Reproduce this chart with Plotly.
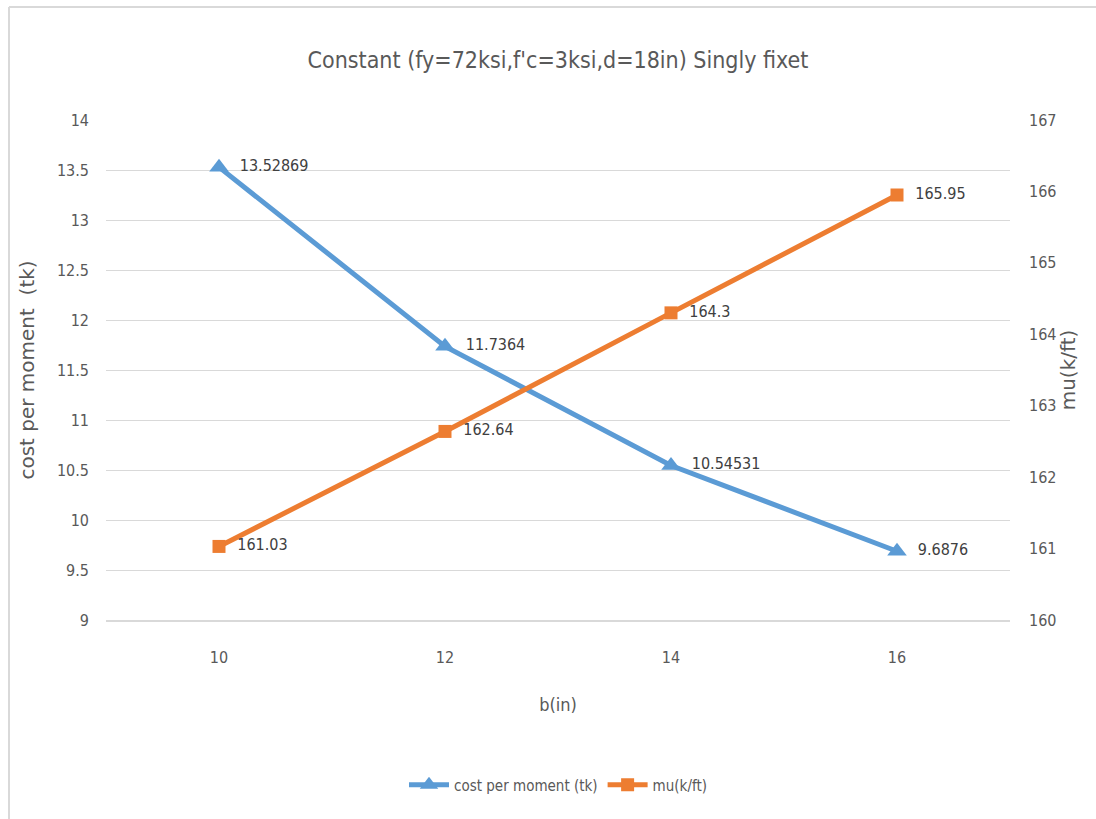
import plotly.graph_objects as go

# Beam width b (in) and the two series plotted against it
b_in = ["10", "12", "14", "16"]
cost_per_moment = [13.52869, 11.7364, 10.54531, 9.6876]
mu_kft = [161.03, 162.64, 164.3, 165.95]

cost_labels = ["13.52869", "11.7364", "10.54531", "9.6876"]
mu_labels = ["161.03", "162.64", "164.3", "165.95"]

left_ticks = [9, 9.5, 10, 10.5, 11, 11.5, 12, 12.5, 13, 13.5, 14]
right_ticks = [160, 161, 162, 163, 164, 165, 166, 167]

BLUE = "#5B9BD5"
ORANGE = "#ED7D31"
GREY_TEXT = "#595959"
NARROW = "DejaVu Sans Condensed, Liberation Sans, sans-serif"
WIDE = "DejaVu Sans, Open Sans, sans-serif"

fig = go.Figure()

fig.add_trace(go.Scatter(
    x=b_in, y=cost_per_moment, name="cost per moment (tk)",
    mode="lines+markers+text",
    line=dict(color=BLUE, width=5),
    marker=dict(symbol="triangle-up", size=17, color=BLUE),
    text=["  " + t for t in cost_labels], textposition="middle right",
    textfont=dict(family=NARROW, size=16, color="#404040"),
    yaxis="y", cliponaxis=False,
))

fig.add_trace(go.Scatter(
    x=b_in, y=mu_kft, name="mu(k/ft)",
    mode="lines+markers+text",
    line=dict(color=ORANGE, width=5),
    marker=dict(symbol="square", size=13, color=ORANGE),
    text=["  " + t for t in mu_labels], textposition="middle right",
    textfont=dict(family=NARROW, size=16, color="#404040"),
    yaxis="y2", cliponaxis=False,
))

fig.update_layout(
    width=1096, height=819,
    margin=dict(l=106, r=86, t=120, b=199),
    paper_bgcolor="white", plot_bgcolor="white",
    title=dict(
        text="Constant (fy=72ksi,f'c=3ksi,d=18in) Singly fixet",
        xref="paper", x=0.5, xanchor="center", y=0.927, yanchor="middle",
        font=dict(family=NARROW, size=23, color=GREY_TEXT),
    ),
    xaxis=dict(
        type="category", range=[-0.5, 3.5],
        showgrid=False, showline=True, linecolor="#d9d9d9", linewidth=2,
        ticks="", tickfont=dict(family=NARROW, size=16, color=GREY_TEXT),
        ticklabelstandoff=22,
        title=dict(text="b(in)", font=dict(family=NARROW, size=18, color=GREY_TEXT),
                   standoff=32),
        fixedrange=True,
    ),
    yaxis=dict(
        range=[9, 14], tickvals=left_ticks,
        ticktext=[f"{v:g}" for v in left_ticks],
        showgrid=True, gridcolor="#d9d9d9", gridwidth=1, zeroline=False,
        ticks="", tickfont=dict(family=NARROW, size=16, color=GREY_TEXT),
        ticklabelstandoff=16,
        title=dict(text="cost per moment  (tk)",
                   font=dict(family=WIDE, size=20, color=GREY_TEXT), standoff=16),
    ),
    yaxis2=dict(
        range=[160, 167], tickvals=right_ticks, overlaying="y", side="right",
        showgrid=False, zeroline=False, ticks="",
        tickfont=dict(family=NARROW, size=16, color=GREY_TEXT),
        ticklabelstandoff=18,
        title=dict(text="mu(k/ft)", font=dict(family=WIDE, size=20, color=GREY_TEXT),
                   standoff=4),
    ),
    legend=dict(
        orientation="h", x=0.5, xanchor="center", y=-0.33, yanchor="middle",
        font=dict(family=NARROW, size=15, color=GREY_TEXT),
        itemwidth=40, traceorder="normal",
    ),
    shapes=[
        dict(type="line", xref="paper", yref="paper",
             x0=(9 - 106) / 904, x1=(1096 - 106) / 904,
             y0=(620 - 7) / 500, y1=(620 - 7) / 500,
             line=dict(color="#d9d9d9", width=2)),
        dict(type="line", xref="paper", yref="paper",
             x0=(9 - 106) / 904, x1=(9 - 106) / 904,
             y0=(620 - 7) / 500, y1=(620 - 819) / 500,
             line=dict(color="#d9d9d9", width=2)),
    ],
)

fig.write_html("out.html")
